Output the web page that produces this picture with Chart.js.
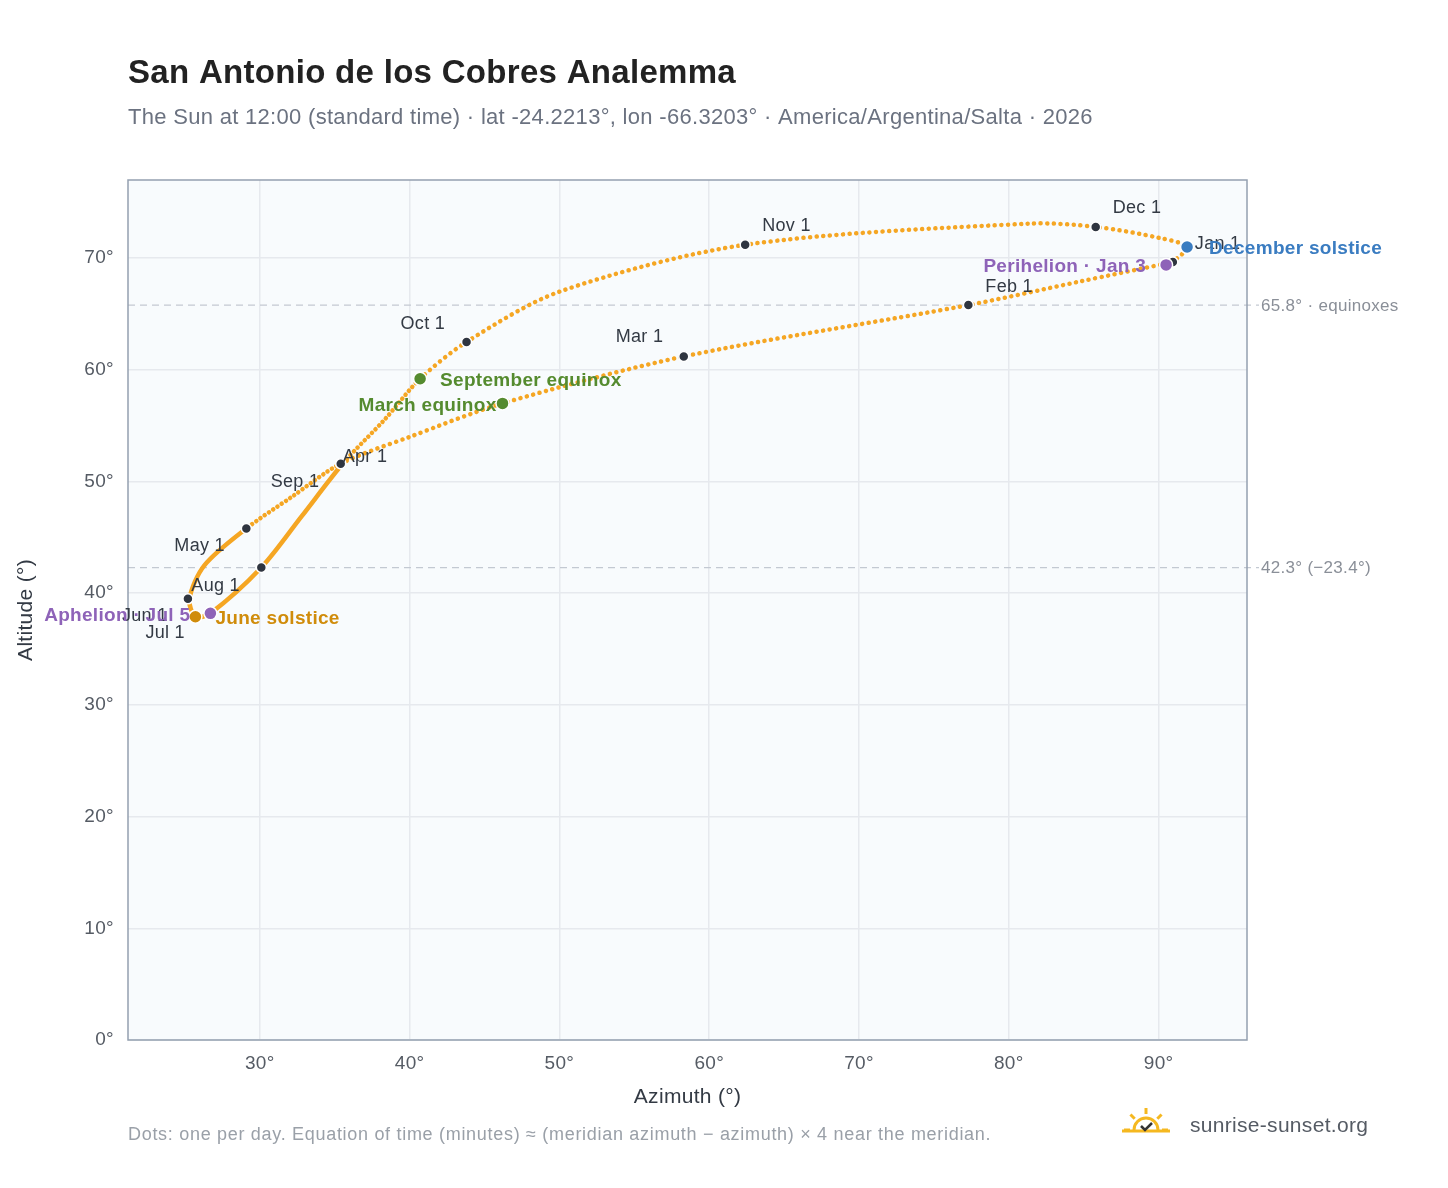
<!DOCTYPE html>
<html>
<head>
<meta charset="utf-8">
<script src="https://cdn.jsdelivr.net/npm/chart.js@4.4.1/dist/chart.umd.min.js"></script>
<style>
  html, body { margin: 0; padding: 0; background: #fff; }
  #wrap { width: 1448px; height: 1188px; }
</style>
</head>
<body>
<div id="wrap"><canvas id="c" width="1448" height="1188"></canvas></div>
<script>
// path of the sun at noon (azimuth, altitude), Jan 1 round to Jan 1
const pathAz  = [90.95, 84.7, 77.3, 58.3, 46.2, 40.0, 35.4, 32.1, 29.1, 26.3, 25.3, 25.7, 26.7, 30.1, 32.8, 35.6, 38.3, 40.7, 43.8, 50.0, 62.4, 81.4, 85.8, 90.1, 91.9, 90.95];
const pathAlt = [69.65, 67.9, 65.8, 61.2, 57.0, 54.0, 51.6, 48.6, 45.8, 42.5, 39.5, 37.9, 38.2, 42.3, 46.9, 51.7, 55.5, 59.2, 62.5, 67.0, 71.2, 73.1, 72.8, 71.8, 71.0, 69.65];

// first-of-month markers
const monthNames = ['Jan 1', 'Feb 1', 'Mar 1', 'Apr 1', 'May 1', 'Jun 1', 'Jul 1', 'Aug 1', 'Sep 1', 'Oct 1', 'Nov 1', 'Dec 1'];
const monthAz    = [90.95, 77.3, 58.3, 35.4, 29.1, 25.2, 25.7, 30.1, 35.4, 43.8, 62.4, 85.8];
const monthAlt   = [69.65, 65.8, 61.2, 51.6, 45.8, 39.5, 37.9, 42.3, 51.6, 62.5, 71.2, 72.8];
const monthDx    = [22, 17, -68, 2, -72, -66, -50, -70, -70, -66, 17, 17];
const monthDy    = [-18, -18, -19, -7, 18, 17, 16, 18, 18, -18, -19, -19];

// special events
const eventNames  = ['December solstice', 'Perihelion · Jan 3', 'March equinox', 'June solstice', 'Aphelion · Jul 5', 'September equinox'];
const eventAz     = [91.9, 90.5, 46.2, 25.7, 26.7, 40.7];
const eventAlt    = [71.0, 69.4, 57.0, 37.9, 38.2, 59.2];
const eventColors = ['#3a7cc1', '#8e63b8', '#558b2f', '#d08c0b', '#8e63b8', '#558b2f'];
const eventDx     = [22, -20, -6, 20, -20, 20];
const eventAlign  = ['left', 'right', 'right', 'left', 'right', 'left'];

// reference altitudes
const refLines  = [65.8, 42.3];
const refLabels = ['65.8° · equinoxes', '42.3° (−23.4°)'];

const FONT = 'Liberation Sans, Arial, sans-serif';

const decor = {
  id: 'decor',
  beforeDraw(chart) {
    const { ctx, chartArea: a } = chart;
    ctx.letterSpacing = '0.3px';
    ctx.save();
    ctx.fillStyle = '#f8fbfd';
    ctx.fillRect(a.left, a.top, a.right - a.left, a.bottom - a.top);
    ctx.restore();
  },
  beforeDatasetsDraw(chart) {
    const { ctx, chartArea: a, scales: { y } } = chart;
    ctx.save();
    ctx.strokeStyle = '#c3c9d2';
    ctx.lineWidth = 1.3;
    ctx.setLineDash([7, 5]);
    ctx.font = '17px ' + FONT;
    ctx.fillStyle = '#8a8f98';
    ctx.textBaseline = 'middle';
    refLines.forEach((v, i) => {
      const py = y.getPixelForValue(v);
      ctx.beginPath(); ctx.moveTo(a.left, py); ctx.lineTo(a.right + 12, py); ctx.stroke();
      ctx.fillText(refLabels[i], a.right + 14, py + 1);
    });
    ctx.restore();
  },
  afterDraw(chart) {
    const { ctx, chartArea: a, scales: { x, y } } = chart;
    ctx.save();
    // border
    ctx.strokeStyle = '#94a0b0';
    ctx.lineWidth = 1.5;
    ctx.strokeRect(a.left, a.top, a.right - a.left, a.bottom - a.top);

    // month labels
    ctx.font = '18px ' + FONT;
    ctx.fillStyle = '#333a44';
    ctx.textBaseline = 'middle';
    monthNames.forEach((m, i) => {
      ctx.fillText(m, x.getPixelForValue(monthAz[i]) + monthDx[i], y.getPixelForValue(monthAlt[i]) + monthDy[i]);
    });
    // event labels
    ctx.font = 'bold 19px ' + FONT;
    eventNames.forEach((n, i) => {
      ctx.fillStyle = eventColors[i];
      ctx.textAlign = eventAlign[i];
      ctx.fillText(n, x.getPixelForValue(eventAz[i]) + eventDx[i], y.getPixelForValue(eventAlt[i]) + 2);
    });

    // titles
    ctx.textAlign = 'left';
    ctx.textBaseline = 'alphabetic';
    ctx.fillStyle = '#222';
    ctx.font = 'bold 33px ' + FONT;
    ctx.fillText('San Antonio de los Cobres Analemma', 128, 83);
    ctx.fillStyle = '#6b7280';
    ctx.font = '22px ' + FONT;
    ctx.fillText('The Sun at 12:00 (standard time) · lat -24.2213°, lon -66.3203° · America/Argentina/Salta · 2026', 128, 124);

    // axis titles
    ctx.fillStyle = '#333a44';
    ctx.font = '21px ' + FONT;
    ctx.textAlign = 'center';
    ctx.fillText('Azimuth (°)', (a.left + a.right) / 2, 1103);
    ctx.save();
    ctx.translate(32, (a.top + a.bottom) / 2);
    ctx.rotate(-Math.PI / 2);
    ctx.fillText('Altitude (°)', 0, 0);
    ctx.restore();

    // footer
    ctx.textAlign = 'left';
    ctx.fillStyle = '#9aa0a8';
    ctx.font = '18px ' + FONT;
    ctx.letterSpacing = '0.7px';
    ctx.fillText('Dots: one per day. Equation of time (minutes) ≈ (meridian azimuth − azimuth) × 4 near the meridian.', 128, 1140);
    ctx.letterSpacing = '0.3px';
    ctx.fillStyle = '#555b64';
    ctx.font = '21px ' + FONT;
    ctx.fillText('sunrise-sunset.org', 1190, 1132);

    // sun logo
    const cx = 1146, cy = 1130;
    ctx.strokeStyle = '#f5b820';
    ctx.lineWidth = 3;
    ctx.beginPath(); ctx.arc(cx, cy, 12, Math.PI, 2 * Math.PI); ctx.stroke();
    for (let k = 0; k < 5; k++) {
      const ang = Math.PI + k * Math.PI / 4;
      ctx.beginPath();
      ctx.moveTo(cx + Math.cos(ang) * 16, cy + Math.sin(ang) * 16);
      ctx.lineTo(cx + Math.cos(ang) * 22, cy + Math.sin(ang) * 22);
      ctx.stroke();
    }
    ctx.beginPath(); ctx.moveTo(cx - 24, cy + 1); ctx.lineTo(cx + 24, cy + 1); ctx.stroke();
    ctx.strokeStyle = '#333';
    ctx.lineWidth = 2.5;
    ctx.beginPath(); ctx.moveTo(cx - 5, cy - 4); ctx.lineTo(cx - 1, cy); ctx.lineTo(cx + 6, cy - 7); ctx.stroke();
    ctx.restore();
  }
};

// dots crowd together near the June solstice, so that stretch reads as a solid line
const dashFor = i => (i >= 8 && i <= 14) ? [] : (i === 6 || i === 7 || i === 15 || i === 16) ? [0.1, 5] : [0.1, 6.5];

new Chart(document.getElementById('c'), {
  type: 'scatter',
  data: {
    datasets: [
      {
        data: eventAz.map((v, i) => ({ x: v, y: eventAlt[i] })),
        pointRadius: 6.5, pointBackgroundColor: eventColors, pointBorderColor: '#fff', pointBorderWidth: 1.5,
        showLine: false, order: 0
      },
      {
        data: monthAz.map((v, i) => ({ x: v, y: monthAlt[i] })),
        pointRadius: 5, pointBackgroundColor: '#2f3540', pointBorderColor: '#fff', pointBorderWidth: 1.5,
        showLine: false, order: 1
      },
      {
        data: pathAz.map((v, i) => ({ x: v, y: pathAlt[i] })),
        showLine: true, tension: 0.3, pointRadius: 0,
        borderColor: '#f5a623', borderWidth: 4.5, borderCapStyle: 'round',
        segment: { borderDash: c => dashFor(c.p0DataIndex) },
        order: 2
      }
    ]
  },
  plugins: [decor],
  options: {
    responsive: false,
    animation: false,
    layout: { padding: { top: 180, right: 201, bottom: 68, left: 0 } },
    plugins: { legend: { display: false }, tooltip: { enabled: false } },
    scales: {
      x: {
        type: 'linear', min: 21.2, max: 95.9,
        afterBuildTicks(s) { s.ticks = [30, 40, 50, 60, 70, 80, 90].map(v => ({ value: v })); },
        afterFit(s) { s.height = 80; },
        grid: { color: '#e6e9ee', lineWidth: 1.5, drawTicks: false },
        border: { display: false },
        ticks: { color: '#555b64', padding: 12, font: { size: 19, family: FONT }, callback: v => v + '°' }
      },
      y: {
        type: 'linear', min: 0, max: 77,
        afterBuildTicks(s) { s.ticks = [0, 10, 20, 30, 40, 50, 60, 70].map(v => ({ value: v })); },
        afterFit(s) { s.width = 128; },
        grid: { color: '#e6e9ee', lineWidth: 1.5, drawTicks: false },
        border: { display: false },
        ticks: { color: '#555b64', padding: 14, font: { size: 19, family: FONT }, callback: v => v + '°' }
      }
    }
  }
});
</script>
</body>
</html>
